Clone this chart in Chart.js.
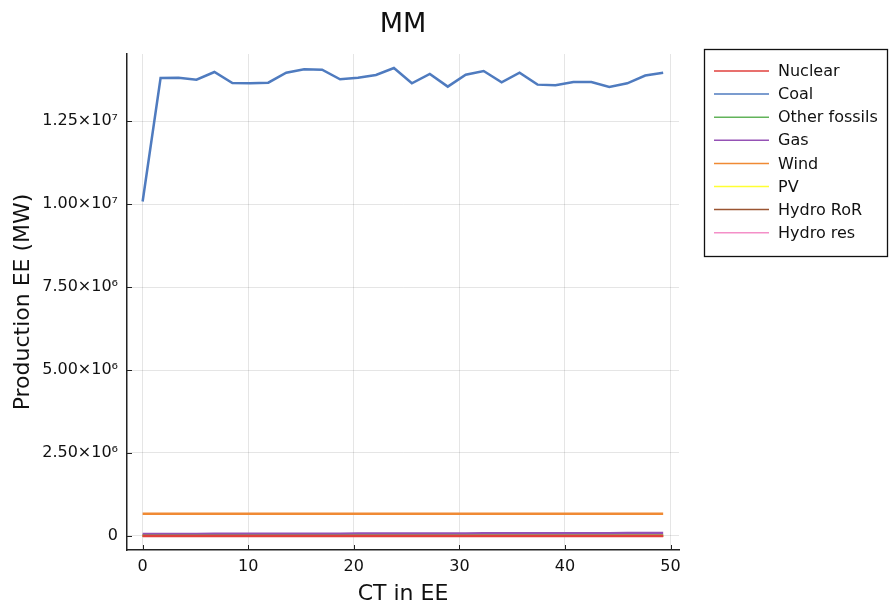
<!DOCTYPE html>
<html>
<head>
<meta charset="utf-8">
<title>MM</title>
<script src="https://cdn.jsdelivr.net/npm/chart.js@4.4.1/dist/chart.umd.min.js"></script>
<style>
  html, body { margin: 0; padding: 0; background: #ffffff; }
  #wrap { width: 889px; height: 610px; position: relative; }
</style>
</head>
<body>
<div id="wrap"><canvas id="chart" width="889" height="610"></canvas></div>
<script>
// CO2 price levels (x axis)
const ctPrices = [0, 1.7, 3.4, 5.1, 6.8, 8.5, 10.2, 11.9, 13.6, 15.3, 17, 18.7, 20.4, 22.1, 23.8,
                  25.5, 27.2, 28.9, 30.6, 32.3, 34, 35.7, 37.4, 39.1, 40.8, 42.5, 44.2, 45.9, 47.6, 49.3];

// Production per technology (MW)
const nuclear = [0, 0, 0, 0, 0, 0, 0, 0, 0, 0, 0, 0, 0, 0, 0,
                 0, 0, 0, 0, 0, 0, 0, 0, 0, 0, 0, 0, 0, 0, 0];
const coal = [10080000, 13800000, 13810000, 13750000, 13980000, 13650000, 13640000, 13660000, 13960000, 14060000,
              14050000, 13760000, 13810000, 13890000, 14100000, 13640000, 13920000, 13540000, 13900000, 14010000,
              13670000, 13960000, 13600000, 13580000, 13680000, 13680000, 13530000, 13640000, 13875000, 13960000];
const otherFossils = [8000, 8000, 8000, 8000, 8000, 8000, 8000, 8000, 8000, 8000,
                      8000, 8000, 8000, 8000, 8000, 8000, 8000, 8000, 8000, 8000,
                      8000, 8000, 8000, 8000, 8000, 8000, 8000, 8000, 8000, 8000];
const gas = [60000, 60000, 61000, 62000, 63000, 64000, 65000, 66000, 67000, 68000,
             69000, 70000, 71000, 72000, 73000, 74000, 75000, 76000, 77000, 78000,
             79000, 80000, 81000, 82000, 83000, 84000, 85000, 86000, 87000, 88000];
const wind = [670000, 670000, 670000, 670000, 670000, 670000, 670000, 670000, 670000, 670000,
              670000, 670000, 670000, 670000, 670000, 670000, 670000, 670000, 670000, 670000,
              670000, 670000, 670000, 670000, 670000, 670000, 670000, 670000, 670000, 670000];
const pv = [4000, 4000, 4000, 4000, 4000, 4000, 4000, 4000, 4000, 4000,
            4000, 4000, 4000, 4000, 4000, 4000, 4000, 4000, 4000, 4000,
            4000, 4000, 4000, 4000, 4000, 4000, 4000, 4000, 4000, 4000];
const hydroRoR = [3000, 3000, 3000, 3000, 3000, 3000, 3000, 3000, 3000, 3000,
                  3000, 3000, 3000, 3000, 3000, 3000, 3000, 3000, 3000, 3000,
                  3000, 3000, 3000, 3000, 3000, 3000, 3000, 3000, 3000, 3000];
const hydroRes = [5000, 5000, 5000, 5000, 5000, 5000, 5000, 5000, 5000, 5000,
                  5000, 5000, 5000, 5000, 5000, 5000, 5000, 5000, 5000, 5000,
                  5000, 5000, 5000, 5000, 5000, 5000, 5000, 5000, 5000, 5000];

// Axis ticks and labels
const xTicks = [0, 10, 20, 30, 40, 50];
const yTicks = [0, 2500000, 5000000, 7500000, 10000000, 12500000];
const yTickLabels = ['0', '2.50×10⁶', '5.00×10⁶', '7.50×10⁶', '1.00×10⁷', '1.25×10⁷'];

const seriesNames = ['Nuclear', 'Coal', 'Other fossils', 'Gas', 'Wind', 'PV', 'Hydro RoR', 'Hydro res'];
const seriesValues = [nuclear, coal, otherFossils, gas, wind, pv, hydroRoR, hydroRes];
const seriesColors = ['#e0403c', '#4f7bbf', '#62b35a', '#9552b5', '#f08a34', '#ffff33', '#9a5532', '#f48fc8'];

const FONT = 'DejaVu Sans';
const AXIS_COLOR = '#222222';

const datasets = seriesNames.map((name, i) => ({
  label: name,
  data: ctPrices.map((x, j) => ({ x: x, y: seriesValues[i][j] })),
  borderColor: seriesColors[i],
  backgroundColor: seriesColors[i],
  borderWidth: 2.5,
  pointRadius: 0,
  pointHoverRadius: 0,
  tension: 0,
  fill: false
}));

// Short tick marks pointing into the plot area
const innerTicks = {
  id: 'innerTicks',
  afterDatasetsDraw(chart) {
    const ctx = chart.ctx;
    const area = chart.chartArea;
    const xs = chart.scales.x, ys = chart.scales.y;
    ctx.save();
    ctx.strokeStyle = AXIS_COLOR;
    ctx.lineWidth = 1;
    ctx.beginPath();
    xs.ticks.forEach(t => {
      const px = Math.round(xs.getPixelForValue(t.value)) + 0.5;
      ctx.moveTo(px, area.bottom);
      ctx.lineTo(px, area.bottom - 5);
    });
    ys.ticks.forEach(t => {
      const py = Math.round(ys.getPixelForValue(t.value)) + 0.5;
      ctx.moveTo(area.left, py);
      ctx.lineTo(area.left + 5, py);
    });
    ctx.stroke();
    ctx.restore();
  }
};

// Framed legend to the right of the plot
const boxLegend = {
  id: 'boxLegend',
  afterDraw(chart) {
    const ctx = chart.ctx;
    const left = 704.5, top = 49.5, width = 183, height = 207;
    ctx.save();
    ctx.fillStyle = '#ffffff';
    ctx.fillRect(left, top, width, height);
    ctx.strokeStyle = '#111111';
    ctx.lineWidth = 1.3;
    ctx.strokeRect(left, top, width, height);
    ctx.font = '16px "' + FONT + '"';
    ctx.textBaseline = 'middle';
    ctx.textAlign = 'left';
    chart.data.datasets.forEach((ds, i) => {
      const y = 71 + i * 23.1;
      ctx.strokeStyle = ds.borderColor;
      ctx.lineWidth = 1.5;
      ctx.beginPath();
      ctx.moveTo(714, y);
      ctx.lineTo(769, y);
      ctx.stroke();
      ctx.fillStyle = '#111111';
      ctx.fillText(ds.label, 778, y + 1);
    });
    ctx.restore();
  }
};

new Chart(document.getElementById('chart'), {
  type: 'line',
  data: { datasets: datasets },
  plugins: [innerTicks, boxLegend],
  options: {
    responsive: false,
    devicePixelRatio: 1,
    animation: false,
    layout: { padding: { left: 0, right: 210, top: 0, bottom: 0 } },
    plugins: {
      legend: { display: false },
      tooltip: { enabled: false },
      title: {
        display: true,
        text: 'MM',
        fullSize: false,
        color: '#111111',
        font: { family: FONT, size: 27, weight: 'normal', lineHeight: 1.2 },
        padding: { top: 9, bottom: 12.6 }
      }
    },
    scales: {
      x: {
        type: 'linear',
        min: -1.48,
        max: 50.8,
        afterFit(scale) { scale.height = 60; },
        afterBuildTicks(scale) { scale.ticks = xTicks.map(v => ({ value: v })); },
        grid: { color: 'rgba(0,0,0,0.1)', lineWidth: 1, drawTicks: false },
        border: { display: true, color: AXIS_COLOR, width: 1.5 },
        ticks: {
          color: '#111111',
          font: { family: FONT, size: 16 },
          padding: 7,
          maxRotation: 0,
          callback: (v) => String(v)
        },
        title: {
          display: true,
          text: 'CT in EE',
          color: '#111111',
          font: { family: FONT, size: 22, lineHeight: 1.2 },
          padding: { top: 0, bottom: 3 }
        }
      },
      y: {
        type: 'linear',
        min: -423000,
        max: 14523000,
        afterFit(scale) { scale.width = 127; },
        afterBuildTicks(scale) { scale.ticks = yTicks.map(v => ({ value: v })); },
        grid: { color: 'rgba(0,0,0,0.1)', lineWidth: 1, drawTicks: false },
        border: { display: true, color: AXIS_COLOR, width: 1.5 },
        ticks: {
          color: '#111111',
          font: { family: FONT, size: 16 },
          padding: 9,
          callback: (v) => {
            const k = yTicks.indexOf(v);
            return k >= 0 ? yTickLabels[k] : '';
          }
        },
        title: {
          display: true,
          text: 'Production EE (MW)',
          color: '#111111',
          font: { family: FONT, size: 22, lineHeight: 1.2 },
          padding: { top: 10, bottom: 0 }
        }
      }
    }
  }
});
</script>
</body>
</html>
